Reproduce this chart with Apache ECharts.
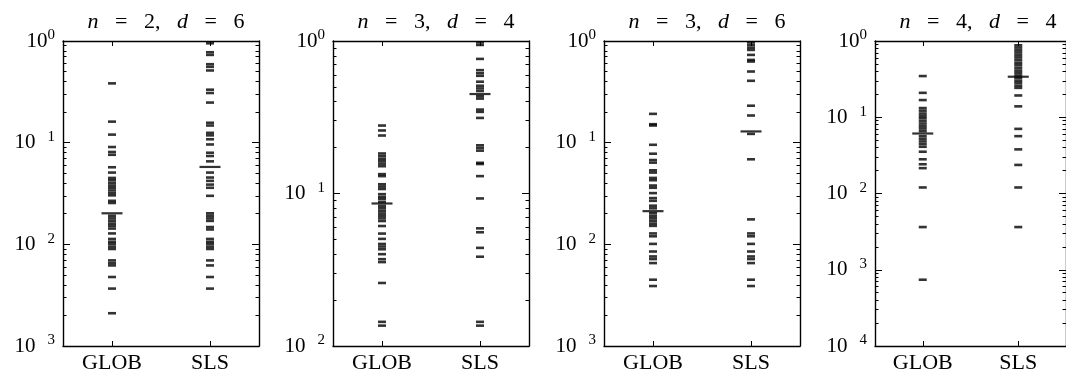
<!DOCTYPE html>
<html>
<head>
<meta charset="utf-8">
<script src="https://cdn.jsdelivr.net/npm/echarts@6/dist/echarts.min.js"></script>
<style>
html, body { margin: 0; padding: 0; background: #fff; }
#main { width: 1066px; height: 374px; }
</style>
</head>
<body>
<div id="main"></div>
<script>
// categories and panel settings
var categories = ['GLOB', 'SLS'];
var panelN = [2, 3, 3, 4];
var panelD = [6, 4, 6, 4];
var panelMin = [1e-3, 1e-2, 1e-3, 1e-4];
var panelMax = [1, 1, 1, 1];

// panel 1: n=2, d=6
var glob1 = [0.383, 0.161, 0.120, 0.0906, 0.081, 0.076, 0.0573, 0.0508, 0.045, 0.0427, 0.0402, 0.0379,
    0.036, 0.0339, 0.0319, 0.0303, 0.0268, 0.0255, 0.0191, 0.018, 0.017, 0.016, 0.0152, 0.0143,
    0.0128, 0.0113, 0.0106, 0.0101, 0.0095, 0.009, 0.00695, 0.00654, 0.0062, 0.00477, 0.00367, 0.0021];
var sls1 = [0.949, 0.775, 0.730, 0.591, 0.557, 0.513, 0.332, 0.308, 0.248, 0.157, 0.1475, 0.125, 0.118,
    0.108, 0.096, 0.0796, 0.0739, 0.0655, 0.0508, 0.0454, 0.0421, 0.0387, 0.036, 0.030, 0.0202, 0.0191,
    0.018, 0.017, 0.0148, 0.014, 0.0113, 0.0106, 0.0101, 0.0095, 0.009, 0.00695, 0.0062, 0.00477, 0.00367];

// panel 2: n=3, d=4
var glob2 = [0.279, 0.259, 0.240, 0.183, 0.176, 0.169, 0.163, 0.157, 0.151, 0.134, 0.130, 0.115, 0.111,
    0.107, 0.099, 0.095, 0.092, 0.088, 0.083, 0.080, 0.077, 0.074, 0.0715, 0.0687, 0.066, 0.0612,
    0.0546, 0.0504, 0.0467, 0.0449, 0.0431, 0.040, 0.0371, 0.0355, 0.0259, 0.0144, 0.0136];
var sls2 = [0.98, 0.942, 0.763, 0.644, 0.615, 0.591, 0.541, 0.509, 0.489, 0.47, 0.434, 0.419, 0.355,
    0.343, 0.313, 0.207, 0.199, 0.191, 0.159, 0.156, 0.130, 0.0928, 0.0591, 0.0557, 0.044, 0.0385,
    0.0144, 0.0136];

// panel 3: n=3, d=6
var glob3 = [0.192, 0.152, 0.1475, 0.0953, 0.0779, 0.0675, 0.0636, 0.0535, 0.0508, 0.045, 0.0427,
    0.0379, 0.036, 0.0319, 0.0285, 0.0268, 0.024, 0.0226, 0.0202, 0.019, 0.018, 0.017, 0.016, 0.0152,
    0.0128, 0.012, 0.0101, 0.0085, 0.0076, 0.00716, 0.00654, 0.00449, 0.00389];
var sls3 = [0.97, 0.914, 0.861, 0.817, 0.73, 0.652, 0.628, 0.501, 0.406, 0.231, 0.185, 0.122, 0.0686,
    0.0176, 0.0128, 0.012, 0.0101, 0.0085, 0.0076, 0.00716, 0.00654, 0.00449, 0.00389];

// panel 4: n=4, d=4
var glob4 = [0.347, 0.209, 0.168, 0.132, 0.122, 0.112, 0.104, 0.0968, 0.0893, 0.0826, 0.0762, 0.0711,
    0.0656, 0.0565, 0.0522, 0.0482, 0.0445, 0.041, 0.0353, 0.0281, 0.0242, 0.0215, 0.012, 0.00363, 0.00074];
var sls4 = [0.879, 0.819, 0.756, 0.705, 0.651, 0.607, 0.561, 0.518, 0.483, 0.446, 0.411, 0.384, 0.354,
    0.327, 0.302, 0.282, 0.260, 0.243, 0.193, 0.139, 0.0704, 0.0565, 0.0379, 0.0237, 0.012, 0.00363];

// medians (long dash)
var globMedian = [0.0202, 0.086, 0.0212, 0.0612];
var slsMedian = [0.0577, 0.449, 0.129, 0.340];

var globData = [glob1, glob2, glob3, glob4];
var slsData = [sls1, sls2, sls3, sls4];

var serif = 'Liberation Serif';
var gridLeft = [63, 333, 604, 875];
var gridWidth = 196;

function tickLabel(v) {
    var e = Math.round(Math.log10(v));
    if (e === 0) return '{b|10}{s|0}';
    return '{b|10}{g| }{s|' + (-e) + '}';
}

var title = [], grid = [], xAxis = [], yAxis = [], series = [];
for (var i = 0; i < 4; i++) {
    title.push({
        text: '{i|n}{r|   =   ' + panelN[i] + ',   }{i|d}{r|   =   ' + panelD[i] + '}',
        left: gridLeft[i] + gridWidth / 2, textAlign: 'center', top: 4,
        textStyle: {
            fontWeight: 'normal',
            rich: {
                i: { fontFamily: serif, fontStyle: 'italic', fontWeight: 'normal', fontSize: 22, color: '#000', lineHeight: 26 },
                r: { fontFamily: serif, fontWeight: 'normal', fontSize: 22, color: '#000', lineHeight: 26 }
            }
        }
    });
    grid.push({ left: gridLeft[i], top: 41, width: gridWidth, height: 306 });

    // bottom axis with labels, top axis mirrors the ticks
    ['bottom', 'top'].forEach(function (pos) {
        xAxis.push({
            type: 'category', gridIndex: i, data: categories, position: pos, z: 5,
            axisLine: { show: true, onZero: false, lineStyle: { color: '#000', width: 1.4 } },
            axisTick: { show: true, inside: true, length: 5, alignWithLabel: true, lineStyle: { color: '#000', width: 1 } },
            axisLabel: pos === 'bottom' ? { color: '#000', fontFamily: serif, fontSize: 22, margin: 6 } : { show: false },
            splitLine: { show: false },
            splitArea: { show: false }
        });
    });

    ['left', 'right'].forEach(function (pos) {
        yAxis.push({
            type: 'log', logBase: 10, gridIndex: i, min: panelMin[i], max: panelMax[i], position: pos,
            z: pos === 'left' ? 5 : 4,
            axisLine: { show: true, onZero: false, lineStyle: { color: '#000', width: 1.4 } },
            axisTick: { show: true, inside: true, length: 7, lineStyle: { color: '#000', width: 1 } },
            minorTick: { show: true, splitNumber: 9, length: 3.5, lineStyle: { color: '#000', width: 1 } },
            axisLabel: pos === 'left' ? {
                show: true, formatter: tickLabel, margin: 8,
                rich: {
                    b: { fontFamily: serif, fontSize: 21, color: '#000', lineHeight: 26 },
                    g: { fontFamily: serif, fontSize: 21, width: 12 },
                    s: { fontFamily: serif, fontSize: 15, color: '#000', lineHeight: 15, verticalAlign: 'top' }
                }
            } : { show: false },
            splitLine: { show: false },
            minorSplitLine: { show: false },
            splitArea: { show: false }
        });
    });

    var xi = i * 2, yi = i * 2;
    series.push({
        type: 'scatter', xAxisIndex: xi, yAxisIndex: yi, symbol: 'rect', symbolSize: [8, 2.6],
        itemStyle: { color: '#000' }, silent: true,
        data: globData[i].map(function (v) { return ['GLOB', v]; })
    });
    series.push({
        type: 'scatter', xAxisIndex: xi, yAxisIndex: yi, symbol: 'rect', symbolSize: [8, 2.6],
        itemStyle: { color: '#000' }, silent: true,
        data: slsData[i].map(function (v) { return ['SLS', v]; })
    });
    series.push({
        type: 'scatter', xAxisIndex: xi, yAxisIndex: yi, symbol: 'rect', symbolSize: [21, 2.2],
        itemStyle: { color: '#000' }, silent: true,
        data: [['GLOB', globMedian[i]], ['SLS', slsMedian[i]]]
    });
}

var chart = echarts.init(document.getElementById('main'));
chart.setOption({
    animation: false,
    backgroundColor: '#fff',
    title: title,
    grid: grid,
    xAxis: xAxis,
    yAxis: yAxis,
    series: series
});
</script>
</body>
</html>
